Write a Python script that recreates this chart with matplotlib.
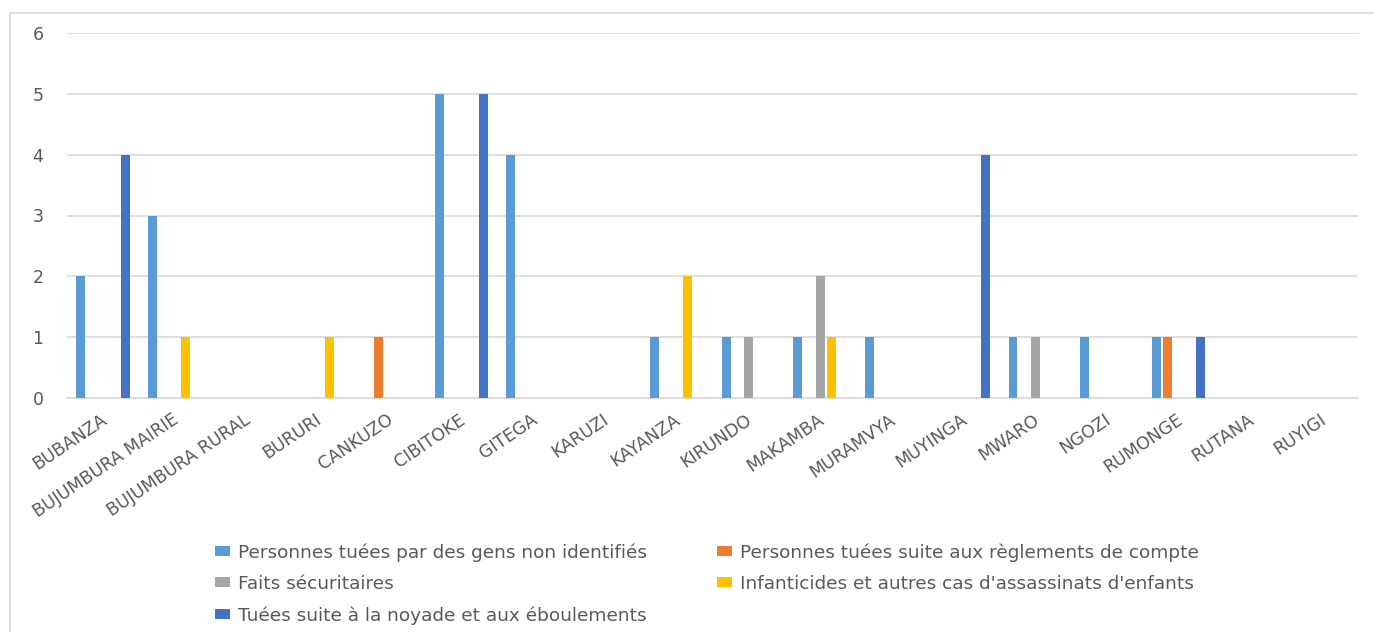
import matplotlib
matplotlib.use("Agg")
import matplotlib.pyplot as plt
from matplotlib.patches import Rectangle
from matplotlib.transforms import ScaledTranslation
import numpy as np

plt.rcParams["font.family"] = ["DejaVu Sans"]

provinces = ["BUBANZA", "BUJUMBURA MAIRIE", "BUJUMBURA RURAL", "BURURI", "CANKUZO",
             "CIBITOKE", "GITEGA", "KARUZI", "KAYANZA", "KIRUNDO", "MAKAMBA",
             "MURAMVYA", "MUYINGA", "MWARO", "NGOZI", "RUMONGE", "RUTANA", "RUYIGI"]

series_names = [
    "Personnes tuées par des gens non identifiés",
    "Personnes tuées suite aux règlements de compte",
    "Faits sécuritaires",
    "Infanticides et autres cas d'assassinats d'enfants",
    "Tuées suite à la noyade et aux éboulements",
]

non_identifies = [2, 3, 0, 0, 0, 5, 4, 0, 1, 1, 1, 1, 0, 1, 1, 1, 0, 0]
reglements = [0, 0, 0, 0, 1, 0, 0, 0, 0, 0, 0, 0, 0, 0, 0, 1, 0, 0]
securitaires = [0, 0, 0, 0, 0, 0, 0, 0, 0, 1, 2, 0, 0, 1, 0, 0, 0, 0]
infanticides = [0, 1, 0, 1, 0, 0, 0, 0, 2, 0, 1, 0, 0, 0, 0, 0, 0, 0]
noyade = [4, 0, 0, 0, 0, 5, 0, 0, 0, 0, 0, 0, 4, 0, 0, 1, 0, 0]

y_ticks = [0, 1, 2, 3, 4, 5, 6]

colors = ["#5B9BD5", "#ED7D31", "#A5A5A5", "#FFC000", "#4472C4"]
all_series = [non_identifies, reglements, securitaires, infanticides, noyade]

W, H = 1374, 632
fig = plt.figure(figsize=(W / 100, H / 100), dpi=100)

# chart frame
fig.patches.append(Rectangle((10 / W, -0.1), 2.0, 1 - 13 / H + 0.1,
                             transform=fig.transFigure, fill=False,
                             edgecolor="#D9D9D9", linewidth=1.2))

ax = fig.add_axes([67 / W, 1 - 398 / H, (1358 - 67) / W, (398 - 33) / H])

x = np.arange(len(provinces))
step = 0.155
bar_w = 0.125
bars = []
for i, (vals, col) in enumerate(zip(all_series, colors)):
    b = ax.bar(x + (i - 2) * step, vals, width=bar_w, color=col, zorder=3,
               label=series_names[i])
    bars.append(b)

ax.set_xlim(-0.5, len(provinces) - 0.5)
ax.set_ylim(0, 6)
ax.set_yticks(y_ticks)
ax.yaxis.grid(True, color="#D9D9D9", linewidth=1.2, zorder=0)
ax.set_axisbelow(True)
for s in ["top", "right", "left"]:
    ax.spines[s].set_visible(False)
ax.spines["bottom"].set_color("#D9D9D9")
ax.spines["bottom"].set_linewidth(1.2)
ax.tick_params(axis="both", length=0, colors="#595959", labelsize=12.5)
ax.tick_params(axis="y", pad=17)
ax.tick_params(axis="x", pad=9)
ax.set_xticks(x)
ax.set_xticklabels(provinces, rotation=34, ha="right", va="top",
                   rotation_mode="anchor")
shift = ScaledTranslation(-3 / 100, 0, fig.dpi_scale_trans)
for lbl in ax.get_xticklabels():
    lbl.set_transform(lbl.get_transform() + shift)

order = [0, 2, 4, 1, 3]
fig.legend([bars[i] for i in order], [series_names[i] for i in order],
           ncol=2, loc="upper left", bbox_to_anchor=(215 / W, 1 - 543 / H),
           frameon=False, fontsize=13.3, labelcolor="#595959",
           handlelength=0.82, handleheight=0.48, handletextpad=0.42,
           labelspacing=0.72, columnspacing=3.8, borderpad=0,
           borderaxespad=0)

fig.savefig("out.png", dpi=100, facecolor="white")
